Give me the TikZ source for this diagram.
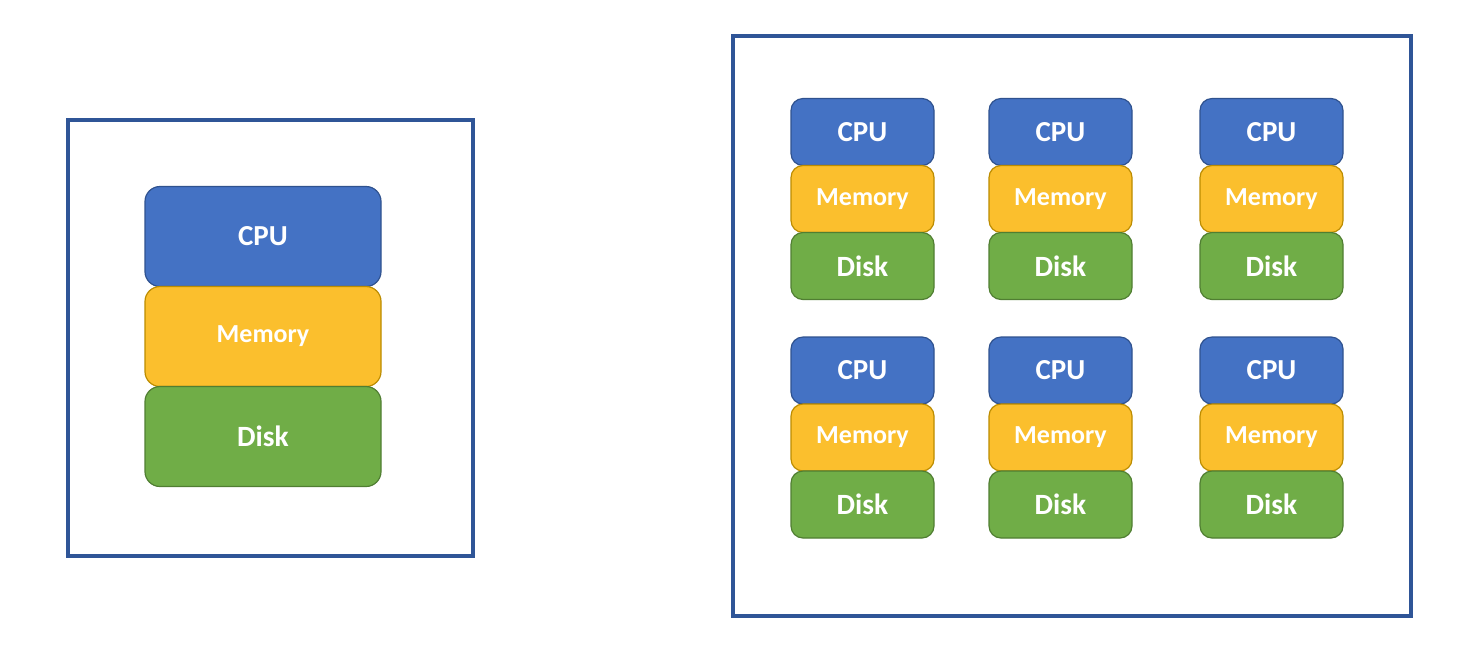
\documentclass[tikz,border=0pt]{standalone}
\usepackage{fontspec}
\setmainfont{Carlito}
\usepackage{xcolor}
\usetikzlibrary{positioning}

\definecolor{frameblue}{HTML}{2F5597}
\definecolor{cpufill}{HTML}{4472C4}
\definecolor{cpuedge}{HTML}{2F528F}
\definecolor{memfill}{HTML}{FBBF2D}
\definecolor{memedge}{HTML}{BC8C00}
\definecolor{diskfill}{HTML}{70AD47}
\definecolor{diskedge}{HTML}{507E32}

\tikzset{
    layer/.style={draw, line width=0.6pt, text=white, inner sep=0pt, outer sep=0pt},
    biglayer/.style={layer, minimum width=118pt, minimum height=50pt, rounded corners=7.5pt},
    smalllayer/.style={layer, minimum width=71.5pt, minimum height=33.5pt, rounded corners=6pt},
    cpubox/.style={fill=cpufill, draw=cpuedge, font=\bfseries\fontsize{14.5}{16}\selectfont},
    membox/.style={fill=memfill, draw=memedge, font=\bfseries\fontsize{13}{15}\selectfont},
    diskbox/.style={fill=diskfill, draw=diskedge, font=\bfseries\fontsize{14.7}{16}\selectfont}
}

\begin{document}
\begin{tikzpicture}[x=0.5pt, y=-0.5pt]
    \useasboundingbox (0,0) rectangle (1466,660);

    % Single machine
    \draw[line width=1.75pt, frameblue] (68,120) rectangle (473,556);
    \node[biglayer, cpubox] (cpuL) at (263,236.5) {CPU};
    \node[biglayer, membox, below=0pt of cpuL] (memL) {Memory};
    \node[biglayer, diskbox, below=0pt of memL] (diskL) {Disk};

    % Cluster of machines
    \draw[line width=1.75pt, frameblue] (733,36) rectangle (1411,616);
    \foreach \x/\c in {862.5/1, 1060.5/2, 1271.5/3}
        \foreach \y/\r in {132/1, 370.5/2} {
            \node[smalllayer, cpubox] (cpu-\r-\c) at (\x,\y) {CPU};
            \node[smalllayer, membox, below=0pt of cpu-\r-\c] (mem-\r-\c) {Memory};
            \node[smalllayer, diskbox, below=0pt of mem-\r-\c] (disk-\r-\c) {Disk};
        }
\end{tikzpicture}
\end{document}
